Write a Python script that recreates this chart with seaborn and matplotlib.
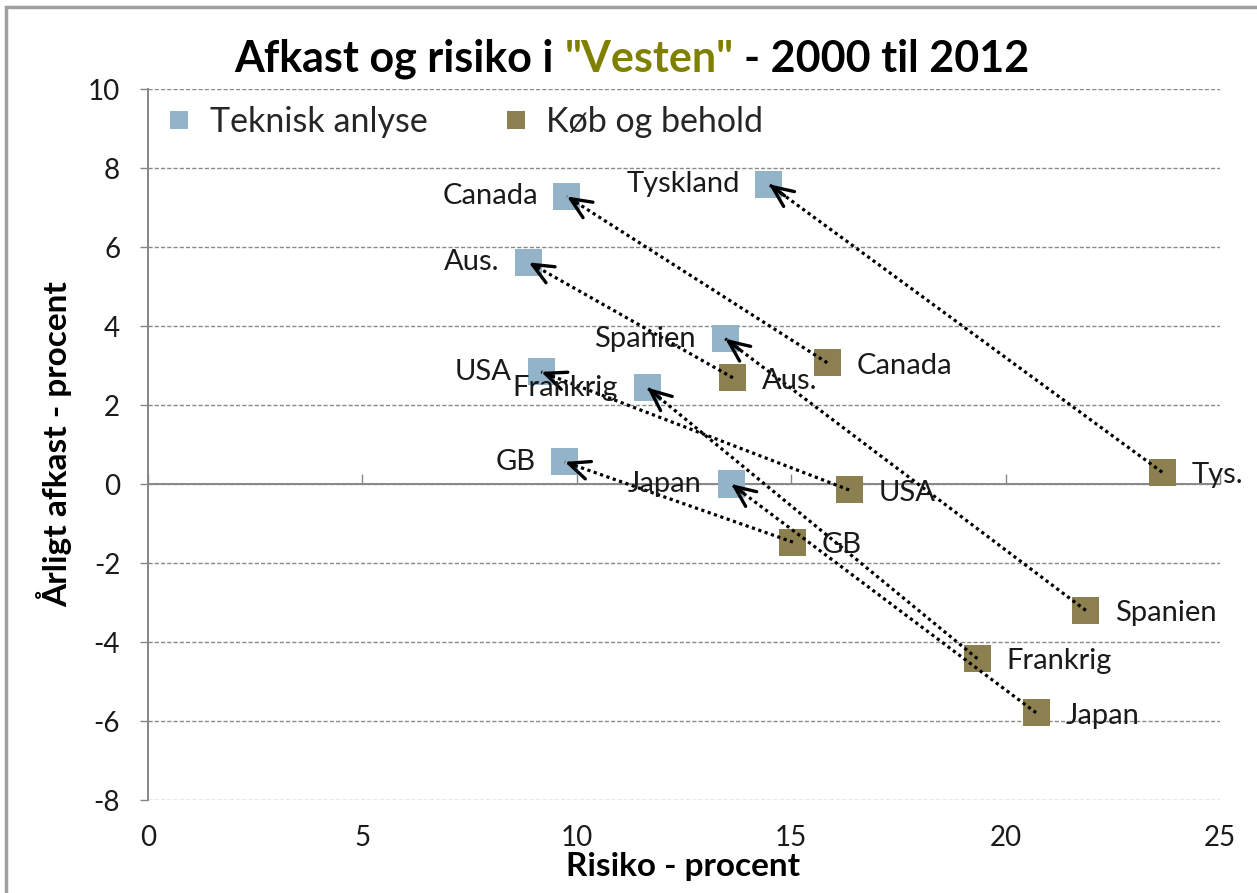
import matplotlib
matplotlib.use("Agg")
import matplotlib.pyplot as plt
import seaborn as sns
import pandas as pd
from matplotlib.lines import Line2D
from matplotlib.patches import Rectangle

# ---------------- data ----------------
lande_ta = ["Canada", "Tyskland", "Aus.", "Spanien", "USA", "Frankrig", "GB", "Japan"]
lande_kb = ["Canada", "Tys.", "Aus.", "Spanien", "USA", "Frankrig", "GB", "Japan"]
risiko_ta = [9.77, 14.48, 8.88, 13.46, 9.17, 11.64, 9.72, 13.60]
afkast_ta = [7.28, 7.59, 5.61, 3.68, 2.84, 2.44, 0.56, 0.00]
risiko_kb = [15.84, 23.65, 13.64, 21.87, 16.35, 19.34, 15.04, 20.71]
afkast_kb = [3.07, 0.30, 2.69, -3.20, -0.15, -4.42, -1.47, -5.79]
serier = ["Teknisk anlyse", "Køb og behold"]
x_ticks = [0, 5, 10, 15, 20, 25]
y_ticks = [-8, -6, -4, -2, 0, 2, 4, 6, 8, 10]

BLUE = "#93B4C8"
OLIVE = "#8C8050"
GRID = "#8a8a8a"
AXC = "#868686"

sns.set_theme(style="white")
plt.rcParams["font.family"] = ["Lato", "DejaVu Sans"]

df = pd.DataFrame({
    "risiko": risiko_ta + risiko_kb,
    "afkast": afkast_ta + afkast_kb,
    "serie": [serier[0]] * len(risiko_ta) + [serier[1]] * len(risiko_kb),
})

fig, ax = plt.subplots(figsize=(12.57, 8.93), dpi=100)
fig.subplots_adjust(left=0.1177, right=0.9706, top=0.9003, bottom=0.1041)

sns.scatterplot(data=df, x="risiko", y="afkast", hue="serie",
                palette={serier[0]: BLUE, serier[1]: OLIVE},
                marker="s", s=380, linewidth=0, legend=False, ax=ax, zorder=3)

# arrows: from "Køb og behold" to "Teknisk anlyse"
for xt, yt, xk, yk in zip(risiko_ta, afkast_ta, risiko_kb, afkast_kb):
    ax.plot([xk, xt], [yk, yt], color="black", lw=2.3, linestyle=(0, (1, 1.1)),
            zorder=4, dash_capstyle="butt")
    ax.annotate("", xy=(xt, yt),
                xytext=(xt + 0.04 * (xk - xt), yt + 0.04 * (yk - yt)),
                arrowprops=dict(arrowstyle="->,head_length=0.75,head_width=0.33",
                                lw=2.4, color="black", shrinkA=0, shrinkB=0,
                                mutation_scale=20),
                zorder=4)

# data labels
for name, x, y in zip(lande_ta, risiko_ta, afkast_ta):
    ax.annotate(name, (x, y), xytext=(-21, 0), textcoords="offset points",
                ha="right", va="center", fontsize=21, color="#1a1a1a", zorder=5)
for name, x, y in zip(lande_kb, risiko_kb, afkast_kb):
    ax.annotate(name, (x, y), xytext=(21, -2), textcoords="offset points",
                ha="left", va="center", fontsize=21, color="#1a1a1a", zorder=5)

# axes styling
ax.set_xlim(0, 25)
ax.set_ylim(-8, 10)
ax.set_xticks(x_ticks)
ax.set_yticks(y_ticks)
ax.set_xticklabels([str(v) for v in x_ticks])
ax.set_yticklabels([str(v) for v in y_ticks])
ax.grid(False)
ax.yaxis.grid(True, color=GRID, linestyle=(0, (3, 1.5)), lw=1.0)
for sp in ["top", "right", "bottom"]:
    ax.spines[sp].set_visible(False)
ax.spines["left"].set_color(AXC)
ax.spines["left"].set_linewidth(1.4)
ax.tick_params(axis="y", left=True, length=6, width=1, color=AXC, pad=14,
               labelsize=20, labelcolor="#1a1a1a")
ax.tick_params(axis="x", bottom=False, length=0, pad=18, labelsize=20,
               labelcolor="#1a1a1a")

# horizontal axis line crossing at y = 0
sec = ax.secondary_xaxis(8 / 18)
sec.set_xticks(x_ticks)
sec.tick_params(direction="in", length=7, width=1, color=AXC, labelbottom=False)
sec.spines["bottom"].set_color(AXC)
sec.spines["bottom"].set_linewidth(1.4)

ax.set_xlabel("Risiko - procent", fontsize=24, fontweight="bold", color="black")
ax.set_ylabel("Årligt afkast - procent", fontsize=24, fontweight="bold", color="black")
ax.xaxis.set_label_coords(0.499, -0.073)
ax.yaxis.set_label_coords(-0.071, 0.5)

# legend
handles = [Line2D([], [], marker="s", linestyle="none", markersize=13,
                  markerfacecolor=c, markeredgewidth=0) for c in (BLUE, OLIVE)]
ax.legend(handles, serier, loc="upper left", bbox_to_anchor=(0.0162, 0.976),
          ncol=2, frameon=False, fontsize=24.5, handlelength=0.8, handletextpad=0.5,
          columnspacing=2.2, borderpad=0, borderaxespad=0)

# title with coloured word
parts = [("Afkast og risiko i", "black"), ('"Vesten"', "#808000"), ("- 2000 til 2012", "black")]
tsize = 31
renderer = fig.canvas.get_renderer()
def width_px(s):
    t = fig.text(0, 0, s, fontsize=tsize, fontweight="bold")
    w = t.get_window_extent(renderer).width
    t.remove()
    return w
space = width_px("x x") - width_px("xx")
widths = [width_px(p) for p, _ in parts]
total = sum(widths) + space * (len(parts) - 1)
cx = 632 / 1257
x0 = cx * fig.bbox.width - total / 2
ty = 1 - 59 / 893
for (p, c), w in zip(parts, widths):
    fig.text(x0 / fig.bbox.width, ty, p, fontsize=tsize, fontweight="bold",
             color=c, ha="left", va="center")
    x0 += w + space

# figure frame (top and left edges visible)
fig.add_artist(Rectangle((6 / 1257, -0.1), 1.2, 1.1 - 7 / 893, transform=fig.transFigure,
                         fill=False, edgecolor="#a0a0a0", lw=2.5))

fig.savefig("out.png", dpi=100)
